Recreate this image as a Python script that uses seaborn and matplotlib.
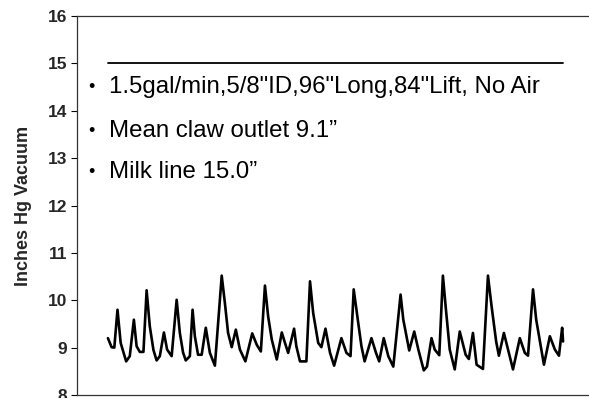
import matplotlib
matplotlib.use("Agg")
import matplotlib.pyplot as plt
import seaborn as sns
import pandas as pd

# Claw outlet vacuum trace (time in seconds, vacuum in inches Hg)
time_s = [0.00, 0.08, 0.14, 0.21, 0.28, 0.40, 0.48, 0.57, 0.63, 0.70, 0.78,
          0.85, 0.92, 1.00, 1.07, 1.14, 1.23, 1.30, 1.40, 1.51, 1.58, 1.65, 1.71,
          1.80, 1.86, 1.91, 1.98, 2.06, 2.15, 2.24, 2.35, 2.50, 2.57,
          2.64, 2.72, 2.81, 2.90, 3.02, 3.17, 3.27, 3.36, 3.45, 3.52,
          3.60, 3.71, 3.82, 3.89, 3.96, 4.09, 4.14, 4.22, 4.36, 4.44,
          4.51, 4.62, 4.69, 4.78, 4.88, 4.97, 5.13, 5.24, 5.33, 5.40,
          5.48, 5.57, 5.64, 5.79, 5.89, 5.96, 6.06, 6.16, 6.27, 6.43,
          6.49, 6.62, 6.73, 6.82, 6.94, 7.01, 7.11, 7.18, 7.28, 7.36,
          7.42, 7.51, 7.62, 7.73, 7.86, 7.93, 8.02, 8.10, 8.24, 8.35,
          8.43, 8.53, 8.59, 8.70, 8.90, 9.05, 9.16, 9.23, 9.34, 9.41,
          9.58, 9.71, 9.82, 9.91, 9.98, 10.00]
vacuum = [9.20, 9.01, 9.00, 9.80, 9.10, 8.71, 8.82, 9.59, 9.03, 8.91, 8.91,
          10.21, 9.45, 8.95, 8.73, 8.82, 9.32, 8.96, 8.82, 10.01, 9.31, 8.90, 8.73,
          8.82, 9.80, 9.24, 8.85, 8.85, 9.42, 8.89, 8.62, 10.52, 9.94,
          9.31, 9.01, 9.38, 8.96, 8.71, 9.30, 9.06, 8.92, 10.31, 9.66,
          9.17, 8.75, 9.32, 9.10, 8.89, 9.40, 9.03, 8.71, 8.71, 10.40,
          9.73, 9.10, 9.01, 9.40, 8.89, 8.62, 9.20, 8.89, 8.82, 10.23,
          9.66, 9.03, 8.71, 9.20, 8.89, 8.71, 9.20, 8.82, 8.60, 10.12,
          9.59, 8.94, 9.34, 8.96, 8.52, 8.60, 9.20, 8.96, 8.84, 10.52,
          9.87, 8.96, 8.54, 9.34, 8.85, 8.76, 9.31, 8.64, 8.55, 10.52,
          9.87, 9.13, 8.83, 9.31, 8.54, 9.20, 8.89, 8.83, 10.23, 9.59,
          8.64, 9.24, 8.96, 8.83, 9.42, 9.13]

milk_line_time = [0.0, 10.0]
milk_line_vacuum = [15.0, 15.0]

notes = [
    '1.5gal/min,5/8"ID,96"Long,84"Lift, No Air',
    'Mean claw outlet 9.1\u201d',
    'Milk line 15.0\u201d',
]
note_levels = [14.50, 13.57, 12.70]

y_ticks = [8, 9, 10, 11, 12, 13, 14, 15, 16]

sns.set_style("ticks")
plt.rcParams["font.family"] = ["Liberation Sans", "DejaVu Sans"]

fig = plt.figure(figsize=(5.89, 3.98), dpi=100)
ax = fig.add_axes([0.1307, 0.0075, 0.8693, 0.9523])

trace = pd.DataFrame({"t": time_s, "vac": vacuum})
milk = pd.DataFrame({"t": milk_line_time, "vac": milk_line_vacuum})

sns.lineplot(data=trace, x="t", y="vac", ax=ax, color="black",
             linewidth=1.9, estimator=None, sort=False,
             solid_joinstyle="round")
sns.lineplot(data=milk, x="t", y="vac", ax=ax, color="black",
             linewidth=1.3, estimator=None, sort=False)

for text, level in zip(notes, note_levels):
    ax.text(-0.36, level, "\u2022", fontsize=13, ha="center", va="center",
            color="black")
    ax.text(0.03, level, text, fontsize=17.3, ha="left", va="center",
            color="black")

ax.set_xlim(-0.68, 10.57)
ax.set_ylim(8, 16)
ax.set_yticks(y_ticks)
ax.set_yticklabels([str(v) for v in y_ticks], fontsize=12.5, fontweight="bold")
ax.set_xticks([])
ax.set_xlabel("")
ax.set_ylabel("Inches Hg Vacuum", fontsize=13, fontweight="bold", labelpad=11)
ax.tick_params(axis="y", length=4, width=0.8, color="black", pad=3)

for side in ["left", "top", "bottom"]:
    ax.spines[side].set_color("#333333")
    ax.spines[side].set_linewidth(0.9)
ax.spines["right"].set_visible(False)

fig.savefig("out.png", dpi=100)
